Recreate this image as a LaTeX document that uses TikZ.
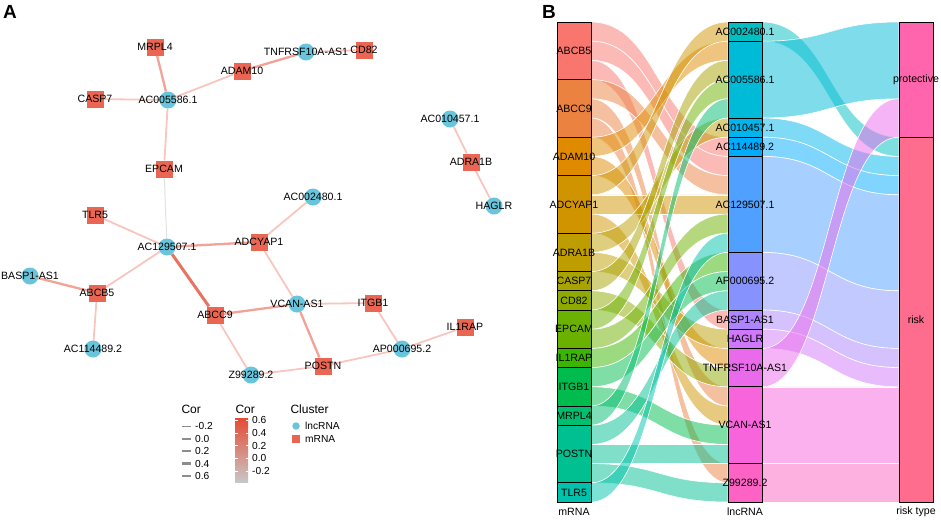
\documentclass[tikz,border=0pt]{standalone}
\usepackage{fontspec}
\setmainfont{Liberation Sans}
\usetikzlibrary{backgrounds}

\definecolor{npgred}{HTML}{E64B35}
\definecolor{mrnacol}{HTML}{EA6653}
\definecolor{lnccol}{HTML}{68C5DB}
\definecolor{corlow}{HTML}{F8C6BE}
\definecolor{cormid}{HTML}{F2A296}
\definecolor{corhigh}{HTML}{E8735F}
\definecolor{corzero}{HTML}{E2E2E2}
% strata
\definecolor{mABCB5}{HTML}{F8766D}
\definecolor{mABCC9}{HTML}{EB8240}
\definecolor{mADAM10}{HTML}{E08A00}
\definecolor{mADCYAP1}{HTML}{CF9400}
\definecolor{mADRA1B}{HTML}{BD9D00}
\definecolor{mCASP7}{HTML}{A8A300}
\definecolor{mCD82}{HTML}{8EAA00}
\definecolor{mEPCAM}{HTML}{6BB100}
\definecolor{mIL1RAP}{HTML}{3AB600}
\definecolor{mITGB1}{HTML}{00BB4E}
\definecolor{mMRPL4}{HTML}{00BE70}
\definecolor{mPOSTN}{HTML}{00C092}
\definecolor{mTLR5}{HTML}{00C1AB}
\definecolor{lAC002480}{HTML}{00BFC2}
\definecolor{lAC005586}{HTML}{00BBD8}
\definecolor{lAC010457}{HTML}{00B5EC}
\definecolor{lAC114489}{HTML}{00ACFC}
\definecolor{lAC129507}{HTML}{4FA0FF}
\definecolor{lAP000695}{HTML}{8693FF}
\definecolor{lBASP1}{HTML}{AE84FF}
\definecolor{lHAGLR}{HTML}{D078FA}
\definecolor{lTNFRSF}{HTML}{E96AEB}
\definecolor{lVCAN}{HTML}{F764DB}
\definecolor{lZ99289}{HTML}{FC63C4}
\definecolor{rprot}{HTML}{FF65AC}
\definecolor{rrisk}{HTML}{FE6D8E}

\tikzset{
    lnc/.style={circle, fill=lnccol, minimum size=17pt, inner sep=0pt},
    mrna/.style={rectangle, fill=mrnacol, minimum size=17pt, inner sep=0pt},
    elow/.style={draw=corlow, line width=1.8pt},
    emid/.style={draw=cormid, line width=2.3pt},
    ehigh/.style={draw=corhigh, line width=3pt},
    ezero/.style={draw=corzero, line width=1pt},
    flow/.style={draw=white, line width=0.6pt, fill opacity=0.5},
    stratum/.style={draw=black, line width=0.9pt, minimum width=34pt, inner sep=0pt},
    legtitle/.style={font=\fontsize{12}{13}\selectfont, anchor=west},
    legtext/.style={font=\fontsize{10.2}{11}\selectfont, anchor=west, inner sep=0pt},
}

\begin{document}
\begin{tikzpicture}[x=1pt, y=-1pt, every node/.style={font=\fontsize{10.6}{12}\selectfont}]
    \useasboundingbox (0,0) rectangle (941,520);
    \node[font=\fontsize{19}{20}\selectfont\bfseries] (tagA) at (10,12) {A};
    \node[font=\fontsize{19}{20}\selectfont\bfseries] (tagB) at (549,12) {B};

    % network
    \node[mrna, label=center:MRPL4] (MRPL4) at (155,47) {};
    \node[mrna, label=center:CD82] (CD82) at (364,50) {};
    \node[mrna, label=center:ADAM10] (ADAM10) at (242,71) {};
    \node[mrna, label=center:CASP7] (CASP7) at (95,99) {};
    \node[mrna, label=center:EPCAM] (EPCAM) at (164,169) {};
    \node[mrna, label=center:TLR5] (TLR5) at (95,215) {};
    \node[mrna, label=center:ADCYAP1] (ADCYAP1) at (259,242) {};
    \node[mrna, label=center:ADRA1B] (ADRA1B) at (471,162) {};
    \node[mrna, label=center:ABCB5] (ABCB5) at (97,293) {};
    \node[mrna, label=center:ABCC9] (ABCC9) at (215,315) {};
    \node[mrna, label=center:ITGB1] (ITGB1) at (373,303) {};
    \node[mrna, label=center:POSTN] (POSTN) at (323,366) {};
    \node[mrna, label=center:IL1RAP] (IL1RAP) at (465,327) {};
    \node[lnc, label=center:TNFRSF10A-AS1] (TNFRSF) at (306,52) {};
    \node[lnc, label=center:AC005586.1] (AC005586) at (168,100) {};
    \node[lnc, label=center:AC002480.1] (AC002480) at (313,197) {};
    \node[lnc, label=center:AC129507.1] (AC129507) at (167,247) {};
    \node[lnc, label=center:AC010457.1] (AC010457) at (450,119) {};
    \node[lnc, label=center:HAGLR] (HAGLR) at (494,206) {};
    \node[lnc, label=center:BASP1-AS1] (BASP1) at (30,276) {};
    \node[lnc, label=center:AC114489.2] (AC114489) at (93,349) {};
    \node[lnc, label=center:VCAN-AS1] (VCAN) at (297,304) {};
    \node[lnc, label=center:AP000695.2] (AP000695) at (402,349) {};
    \node[lnc, label=center:Z99289.2] (Z99289) at (251,375) {};

    \begin{scope}[on background layer]
        \draw[emid] (MRPL4) -- (AC005586);
        \draw[elow] (CASP7) -- (AC005586);
        \draw[elow] (AC005586) -- (ADAM10);
        \draw[emid] (ADAM10) -- (TNFRSF);
        \draw[elow] (TNFRSF) -- (CD82);
        \draw[elow] (AC005586) -- (EPCAM);
        \draw[ezero] (EPCAM) -- (AC129507);
        \draw[elow] (TLR5) -- (AC129507);
        \draw[emid] (AC129507) -- (ADCYAP1);
        \draw[elow] (ADCYAP1) -- (AC002480);
        \draw[elow] (ADCYAP1) -- (VCAN);
        \draw[elow] (AC129507) -- (ABCB5);
        \draw[emid] (BASP1) -- (ABCB5);
        \draw[elow] (ABCB5) -- (AC114489);
        \draw[ehigh] (AC129507) -- (ABCC9);
        \draw[emid] (ABCC9) -- (VCAN);
        \draw[elow] (ABCC9) -- (Z99289);
        \draw[elow] (VCAN) -- (ITGB1);
        \draw[emid] (VCAN) -- (POSTN);
        \draw[elow] (ITGB1) -- (AP000695);
        \draw[elow] (AP000695) -- (IL1RAP);
        \draw[elow] (POSTN) -- (Z99289);
        \draw[elow] (POSTN) -- (AP000695);
        \draw[elow] (AC010457) -- (ADRA1B);
        \draw[elow] (ADRA1B) -- (HAGLR);
    \end{scope}

    % legend
    \node[legtitle] (lwtitle) at (178,409) {Cor};
    \foreach \v/\w [count=\i] in {-0.2/1.1, 0.0/1.5, 0.2/1.9, 0.4/2.3, 0.6/2.7} {
        \coordinate (lw\i) at (182,{414+\i*12.4});
        \draw[gray!90, line width=\w pt] (lw\i) -- ++(9,0);
        \node[legtext] (lwt\i) at (195,{414+\i*12.4}) {\v};
    }
    \node[legtitle] (lctitle) at (232,409) {Cor};
    \shade[top color=npgred, middle color=white, bottom color=black!22]
        (235,418) rectangle (248,482);
    \fill[npgred] (235,418) rectangle (248,421);
    \foreach \v [count=\i] in {0.6, 0.4, 0.2, 0.0, -0.2} {
        \draw[white, line width=0.6pt] (235,{407.2+\i*12.8}) -- ++(2.5,0)
            (248,{407.2+\i*12.8}) -- ++(-2.5,0);
        \node[legtext] (lct\i) at (252,{407.2+\i*12.8}) {\v};
    }
    \node[legtitle] (cltitle) at (287,409) {Cluster};
    \node[circle, fill=lnccol, minimum size=7.5pt, inner sep=0pt] (kdot) at (296,426) {};
    \node[legtext] (kdott) at (305,426) {lncRNA};
    \node[rectangle, fill=mrnacol, minimum size=7.5pt, inner sep=0pt] (ksq) at (296,439) {};
    \node[legtext] (ksqt) at (305,439) {mRNA};

    % alluvial: mRNA -> lncRNA
    \foreach \a/\b/\c in {0/6/mABCB5, 1/7/mABCB5, 2/15/mABCB5, 3/8/mABCC9, 4/19/mABCC9,
        5/23/mABCC9, 6/1/mADAM10, 7/17/mADAM10, 8/0/mADCYAP1, 9/9/mADCYAP1,
        10/20/mADCYAP1, 11/5/mADRA1B, 12/16/mADRA1B, 13/2/mCASP7, 14/18/mCD82,
        15/3/mEPCAM, 16/10/mEPCAM, 17/12/mIL1RAP, 18/13/mITGB1, 19/21/mITGB1,
        20/4/mMRPL4, 21/14/mPOSTN, 22/22/mPOSTN, 23/24/mPOSTN, 24/11/mTLR5} {
        \pgfmathsetmacro\ya{22+\a*19.2}
        \pgfmathsetmacro\yb{22+\b*19.2}
        \pgfmathsetmacro\yc{22+(\b+1)*19.2}
        \pgfmathsetmacro\yd{22+(\a+1)*19.2}
        \path[flow, fill=\c] (591,\ya) .. controls (659,\ya) and (659,\yb) .. (728,\yb)
            -- (728,\yc) .. controls (659,\yc) and (659,\yd) .. (591,\yd) -- cycle;
    }
    % alluvial: lncRNA -> risk type
    \foreach \a/\k/\b/\c in {0/1/6/lAC002480, 1/4/0/lAC005586, 5/1/7/lAC010457,
        6/1/8/lAC114489, 7/5/9/lAC129507, 12/3/14/lAP000695, 15/1/17/lBASP1,
        16/1/18/lHAGLR, 17/2/4/lTNFRSF, 19/4/19/lVCAN, 23/2/23/lZ99289} {
        \pgfmathsetmacro\ya{22+\a*19.2}
        \pgfmathsetmacro\yb{22+\b*19.2}
        \pgfmathsetmacro\yc{22+(\b+\k)*19.2}
        \pgfmathsetmacro\yd{22+(\a+\k)*19.2}
        \path[flow, fill=\c] (762,\ya) .. controls (830,\ya) and (830,\yb) .. (899,\yb)
            -- (899,\yc) .. controls (830,\yc) and (830,\yd) .. (762,\yd) -- cycle;
    }

    % strata
    \foreach \n/\s/\k/\c in {ABCB5/0/3/mABCB5, ABCC9/3/3/mABCC9, ADAM10/6/2/mADAM10,
        ADCYAP1/8/3/mADCYAP1, ADRA1B/11/2/mADRA1B, CASP7/13/1/mCASP7, CD82/14/1/mCD82,
        EPCAM/15/2/mEPCAM, IL1RAP/17/1/mIL1RAP, ITGB1/18/2/mITGB1, MRPL4/20/1/mMRPL4,
        POSTN/21/3/mPOSTN, TLR5/24/1/mTLR5} {
        \pgfmathsetmacro\ym{22+(\s+\k/2)*19.2}
        \node[stratum, fill=\c, minimum height=\k*19.2pt, label=center:\n] (m\s) at (574,\ym) {};
    }
    \foreach \n/\s/\k/\c in {AC002480.1/0/1/lAC002480, AC005586.1/1/4/lAC005586,
        AC010457.1/5/1/lAC010457, AC114489.2/6/1/lAC114489, AC129507.1/7/5/lAC129507,
        AP000695.2/12/3/lAP000695, BASP1-AS1/15/1/lBASP1, HAGLR/16/1/lHAGLR,
        TNFRSF10A-AS1/17/2/lTNFRSF, VCAN-AS1/19/4/lVCAN, Z99289.2/23/2/lZ99289} {
        \pgfmathsetmacro\ym{22+(\s+\k/2)*19.2}
        \node[stratum, fill=\c, minimum height=\k*19.2pt, label=center:\n] (l\s) at (745,\ym) {};
    }
    \node[stratum, fill=rprot, minimum height=115.2pt, label=center:protective] (protective) at (916,79.6) {};
    \node[stratum, fill=rrisk, minimum height=364.8pt, label=center:risk] (risk) at (916,319.6) {};

    \node (axm) at (574,512) {mRNA};
    \node (axl) at (745,512) {lncRNA};
    \node (axr) at (916,512) {risk type};
\end{tikzpicture}
\end{document}
